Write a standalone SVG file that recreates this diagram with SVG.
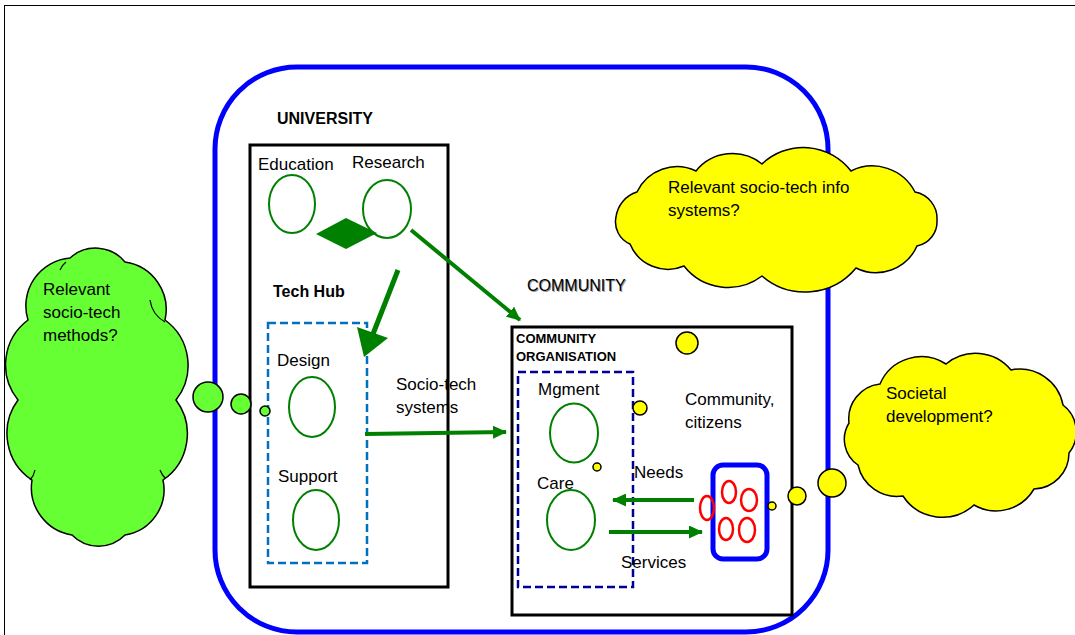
<svg xmlns="http://www.w3.org/2000/svg" width="1075" height="635" viewBox="0 0 1075 635">
<style>
text{font-family:"Liberation Sans",Arial,sans-serif;fill:#000}
.lbl{font-size:17px}
.bold{font-weight:bold;font-size:16px}
.small{font-weight:bold;font-size:13px}
.gel{fill:#fff;stroke:#008000;stroke-width:2}
.conn{stroke:#008000;stroke-width:4;fill:none}
.rel{fill:none;stroke:#f00;stroke-width:2.5}
.ycirc{fill:#ff0;stroke:#000;stroke-width:1.5}
.gcirc{fill:#66ff33;stroke:#000;stroke-width:1.5}
.cloudY{fill:#ff0;stroke:#000;stroke-width:1.5}
.cloudG{fill:#66ff33;stroke:#000;stroke-width:1.5}
.box{fill:#fff;stroke:#000;stroke-width:3}
</style>
<defs>
<marker id="ah" markerUnits="userSpaceOnUse" markerWidth="14" markerHeight="13" refX="13" refY="6.5" orient="auto">
<path d="M0,0 L14,6.5 L0,13 z" fill="#008000"/>
</marker>
</defs>
<rect x="0" y="0" width="1075" height="635" fill="#fff"/>
<rect x="4.5" y="5.5" width="1090" height="650" fill="none" stroke="#000" stroke-width="1"/>

<g id="world">
<rect x="215" y="67" width="613" height="565" rx="82" fill="none" stroke="#0000ff" stroke-width="5"/>
</g>

<g id="university">
<rect class="box" x="250" y="145" width="198" height="442"/>
<text class="bold" x="277" y="124">UNIVERSITY</text>
</g>

<g id="education">
<text class="lbl" x="258" y="170">Education</text>
<ellipse class="gel" cx="292" cy="204" rx="23" ry="29"/>
</g>
<g id="research">
<text class="lbl" x="352" y="168">Research</text>
<ellipse class="gel" cx="387" cy="209" rx="24" ry="29"/>
</g>

<g id="techhub">
<text class="bold" x="273" y="297">Tech Hub</text>
<rect x="268" y="323" width="99" height="240" fill="none" stroke="#0070c0" stroke-width="2.5" stroke-dasharray="8 4"/>
</g>
<g id="design">
<text class="lbl" x="277" y="366">Design</text>
<ellipse class="gel" cx="312" cy="407" rx="23" ry="30"/>
</g>
<g id="support">
<text class="lbl" x="278" y="482">Support</text>
<ellipse class="gel" cx="316" cy="520" rx="23" ry="30"/>
</g>

<g id="community">
<text x="528" y="292" font-size="16" style="fill:#999">COMMUNITY</text>
<text x="527" y="291" font-size="16">COMMUNITY</text>
</g>

<g id="community-org">
<rect class="box" x="512" y="327" width="280" height="288"/>
<text class="small" x="516" y="343">COMMUNITY</text>
<text class="small" x="516" y="361">ORGANISATION</text>
<rect x="518" y="372" width="115" height="215" fill="none" stroke="#000099" stroke-width="2.5" stroke-dasharray="8 4"/>
</g>
<g id="mgment">
<text class="lbl" x="538" y="395">Mgment</text>
<ellipse class="gel" cx="574" cy="433" rx="24" ry="29.5"/>
</g>
<g id="care">
<text class="lbl" x="537" y="489">Care</text>
<ellipse class="gel" cx="571" cy="520" rx="24" ry="30"/>
</g>

<g id="citizens">
<text class="lbl" x="685" y="405">Community,</text>
<text class="lbl" x="685" y="428">citizens</text>
<rect x="713" y="465" width="54" height="94" rx="10" fill="#fff" stroke="#0000ff" stroke-width="5"/>
<ellipse class="rel" cx="707" cy="508" rx="7" ry="12"/>
<ellipse class="rel" cx="729" cy="492" rx="7" ry="11"/>
<ellipse class="rel" cx="749" cy="500" rx="8" ry="11"/>
<ellipse class="rel" cx="726" cy="529" rx="7" ry="11"/>
<ellipse class="rel" cx="747" cy="530" rx="8" ry="12"/>
</g>

<g id="connectors">
<polygon points="316,234 346,218 377,233 346,249" fill="#008000"/>
<line class="conn" x1="411" y1="230" x2="520" y2="320" marker-end="url(#ah)"/>
<line x1="398" y1="270" x2="373" y2="334" stroke="#008000" stroke-width="5"/>
<polygon points="357,327 388,338 364,357" fill="#008000"/>
<line class="conn" x1="365" y1="434" x2="506" y2="432" marker-end="url(#ah)"/>
<line class="conn" x1="694" y1="500" x2="613" y2="500" marker-end="url(#ah)"/>
<line class="conn" x1="609" y1="532" x2="702" y2="532" marker-end="url(#ah)"/>
<text class="lbl" x="396" y="390">Socio-tech</text>
<text class="lbl" x="396" y="413">systems</text>
<text class="lbl" x="634" y="478">Needs</text>
<text class="lbl" x="621" y="568">Services</text>
</g>

<g id="cloud-methods">
<path class="cloudG" d="M70,258 A38,38 0 0 1 125,262 A48,48 0 0 1 165,320 A56,56 0 0 1 176,400 A56,56 0 0 1 163,480 A46,46 0 0 1 125,535 A37,37 0 0 1 72,535 A48,48 0 0 1 32,480 A56,56 0 0 1 18,400 A56,56 0 0 1 28,320 A48,48 0 0 1 70,258 Z"/>
<path d="M60,270 A20,20 0 0 1 66,262 M150,300 A30,30 0 0 0 165,322 M160,470 A25,25 0 0 0 165,478 M35,470 A20,20 0 0 1 30,480" fill="none" stroke="#000" stroke-width="1.2"/>
<text class="lbl" x="43" y="295">Relevant</text>
<text class="lbl" x="43" y="318">socio-tech</text>
<text class="lbl" x="43" y="341">methods?</text>
<circle class="gcirc" cx="208" cy="397" r="15"/>
<circle class="gcirc" cx="241" cy="404" r="10"/>
<circle class="gcirc" cx="265" cy="411" r="5"/>
</g>

<g id="cloud-info">
<path class="cloudY" d="M762,164 A60,60 0 0 1 851,171 A48,48 0 0 1 915,192 A27,27 0 0 1 937,220 A25,25 0 0 1 917,246 A45,45 0 0 1 856,268 A66,66 0 0 1 762,276 A56,56 0 0 1 684,266 A41,41 0 0 1 630,244 A24,24 0 0 1 616,217 A30,30 0 0 1 637,192 A44,44 0 0 1 696,171 A47,47 0 0 1 762,164 Z"/>
<text class="lbl" x="668" y="193">Relevant socio-tech info</text>
<text class="lbl" x="668" y="216">systems?</text>
<circle class="ycirc" cx="687" cy="343" r="11"/>
<circle class="ycirc" cx="640" cy="408" r="7"/>
<circle class="ycirc" cx="597" cy="467" r="4"/>
</g>

<g id="cloud-societal">
<path class="cloudY" d="M946,364 A46,46 0 0 1 1011,370 A44,44 0 0 1 1063,405 A34,34 0 0 1 1069,453 A36,36 0 0 1 1034,489 A44,44 0 0 1 974,505 A47,47 0 0 1 903,496 A40,40 0 0 1 858,465 A31,31 0 0 1 849,423 A35,35 0 0 1 880,384 A45,45 0 0 1 946,364 Z"/>
<text class="lbl" x="886" y="399">Societal</text>
<text class="lbl" x="886" y="422">development?</text>
<circle class="ycirc" cx="832" cy="483" r="14"/>
<circle class="ycirc" cx="797" cy="496" r="9"/>
<circle class="ycirc" cx="772" cy="506" r="4"/>
</g>
</svg>
